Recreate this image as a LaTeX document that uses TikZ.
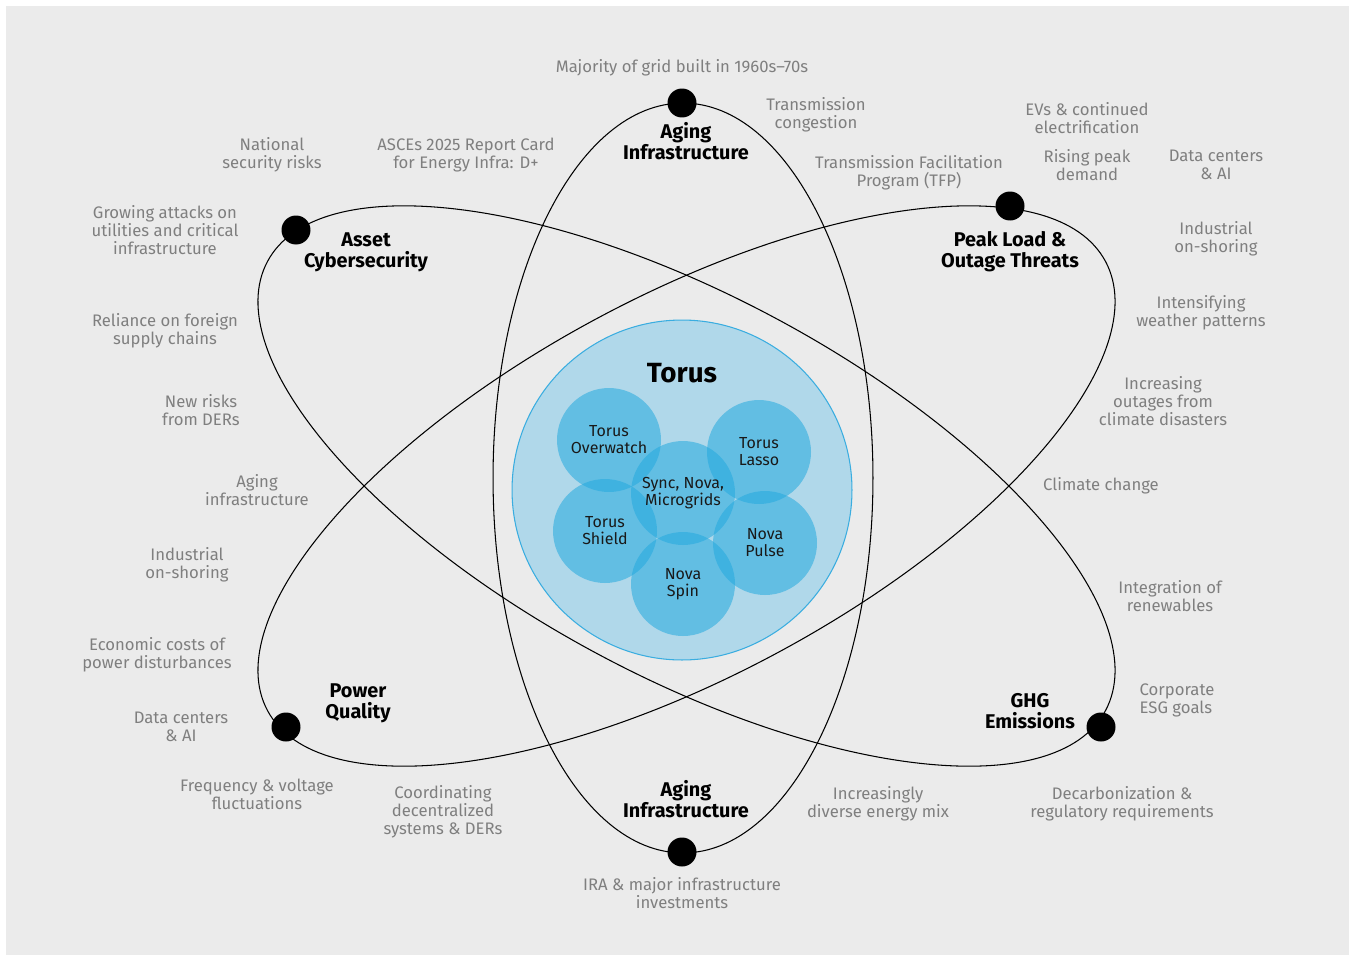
\documentclass[tikz,border=0pt]{standalone}
\usepackage{fontspec}
\setmainfont{Fira Sans}
\definecolor{fondo}{HTML}{EBEBEB}
\definecolor{notagris}{HTML}{7F7F7F}
\definecolor{torusazul}{HTML}{25AADF}
\definecolor{torusfondo}{HTML}{B0D8EA}
\definecolor{torusborde}{HTML}{3AADE0}
\tikzset{
  orbita/.style={draw=black, line width=0.6pt},
  punto/.style={circle, fill=black, inner sep=0pt, minimum size=16.5pt},
  nota/.style={text=notagris, align=center, font=\fontsize{9.5}{10.2}\selectfont},
  eje/.style={align=center, font=\bfseries\fontsize{11.3}{11.9}\selectfont},
  modulo/.style={circle, fill=torusazul, fill opacity=0.56, inner sep=0pt, minimum size=2.08cm},
  modtexto/.style={align=center, text=black!90, font=\fontsize{9.1}{9.6}\selectfont}
}
\begin{document}
\begin{tikzpicture}[x=0.02cm, y=-0.02cm]
% Fondo
\fill[white] (0,0) rectangle (1351,957);
\fill[fondo] (6,6) rectangle (1349,955);
\useasboundingbox (0,0) rectangle (1351,957);
% Orbitas
\draw[orbita] (683,478) ellipse [x radius=3.8cm, y radius=7.5cm];
\draw[orbita] (686.5,486) ellipse [x radius=9.51cm, y radius=3.8cm, rotate=-28.2];
\draw[orbita] (686.5,486) ellipse [x radius=9.51cm, y radius=3.8cm, rotate=28.2];
% Torus
\node[circle, fill=torusfondo, draw=torusborde, line width=0.6pt, minimum size=6.8cm] (torus) at (682,490) {};
\node[font=\bfseries\fontsize{15.8}{18}\selectfont] (titulo) at (682,373) {Torus};
\node[modulo] (ow) at (609,440) {};
\node[modulo] (la) at (759,452) {};
\node[modulo] (sy) at (683,493) {};
\node[modulo] (sh) at (605,531) {};
\node[modulo] (pu) at (765,543) {};
\node[modulo] (sp) at (683,584) {};
\node[modtexto] (owt) at (ow) {Torus\\Overwatch};
\node[modtexto] (lat) at (la) {Torus\\Lasso};
\node[modtexto] (syt) at (sy) {Sync, Nova,\\Microgrids};
\node[modtexto] (sht) at (sh) {Torus\\Shield};
\node[modtexto] (put) at (pu) {Nova\\Pulse};
\node[modtexto] (spt) at (sp) {Nova\\Spin};
% Puntos
\node[punto] (aging1) at (682,103) {};
\node[punto] (aging2) at (682,852) {};
\node[punto] (asset) at (296,230) {};
\node[punto] (peak) at (1010,206) {};
\node[punto] (power) at (286,727) {};
\node[punto] (ghg) at (1101,727) {};
% Ejes
\node[eje] (aging1t) at (686,141) {Aging\\Infrastructure};
\node[eje] (aging2t) at (686,799) {Aging\\Infrastructure};
\node[eje] (assett) at (366,252) {Asset\\Cybersecurity};
\node[eje] (peakt) at (1010,252) {Peak Load \&\\Outage Threats};
\node[eje] (powert) at (358,703) {Power\\Quality};
\node[eje] (ghgt) at (1030,711) {GHG\\Emissions};
% Notas
\node[nota] (n1) at (682,68) {Majority of grid built in 1960s–70s};
\node[nota] (n2) at (816,115) {Transmission\\congestion};
\node[nota] (n3) at (272,155) {National\\security risks};
\node[nota] (n4) at (466,155) {ASCEs 2025 Report Card\\for Energy Infra: D+};
\node[nota] (n5) at (909,173) {Transmission Facilitation\\Program (TFP)};
\node[nota] (n6) at (1087,118) {EVs \& continued\\electrification};
\node[nota] (n7) at (1087,165) {Rising peak\\demand};
\node[nota] (n8) at (1216,165) {Data centers\\\& AI};
\node[nota] (n9) at (165,230) {Growing attacks on\\utilities and critical\\infrastructure};
\node[nota] (n10) at (1216,239) {Industrial\\on-shoring};
\node[nota] (n11) at (1201,313) {Intensifying\\weather patterns};
\node[nota] (n12) at (165,331) {Reliance on foreign\\supply chains};
\node[nota] (n13) at (1163,401) {Increasing\\outages from\\climate disasters};
\node[nota] (n14) at (201,410) {New risks\\from DERs};
\node[nota] (n15) at (1101,486) {Climate change};
\node[nota] (n16) at (257,490) {Aging\\infrastructure};
\node[nota] (n17) at (187,565) {Industrial\\on-shoring};
\node[nota] (n18) at (1170,596) {Integration of\\renewables};
\node[nota] (n19) at (157,655) {Economic costs of\\power disturbances};
\node[nota, align=left] (n20) at (1177,700) {Corporate\\ESG goals};
\node[nota] (n21) at (181,727) {Data centers\\\& AI};
\node[nota] (n22) at (257,794) {Frequency \& voltage\\fluctuations};
\node[nota] (n23) at (443,812) {Coordinating\\decentralized\\systems \& DERs};
\node[nota] (n24) at (878,804) {Increasingly\\diverse energy mix};
\node[nota] (n25) at (1122,804) {Decarbonization \&\\regulatory requirements};
\node[nota] (n26) at (682,893) {IRA \& major infrastructure\\investments};
\end{tikzpicture}
\end{document}
